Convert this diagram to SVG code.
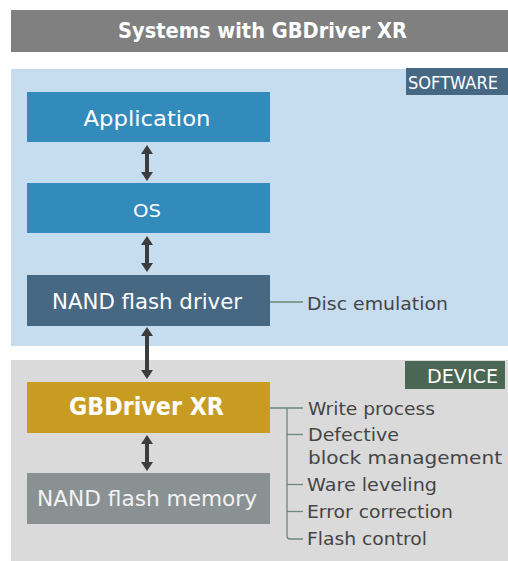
<svg xmlns="http://www.w3.org/2000/svg" width="508" height="561" viewBox="0 0 508 561">
  <style>
    .t { font-family: "DejaVu Sans", "Liberation Sans", sans-serif; }
    .w { fill: #ffffff; }
    .lbl { fill: #454545; font-size: 18px; }
    .conn { stroke: #6b8878; stroke-width: 1.3; fill: none; }
    .arr { stroke: #3c3c3c; stroke-width: 4; marker-start: url(#ah); marker-end: url(#ah); }
  </style>
  <defs>
    <marker id="ah" viewBox="0 0 9 12" refX="1" refY="6" markerWidth="9" markerHeight="12" markerUnits="userSpaceOnUse" orient="auto-start-reverse">
      <path d="M0,0 L9,6 L0,12 Z" fill="#3c3c3c"/>
    </marker>
  </defs>
  <rect width="508" height="561" fill="#ffffff"/>

  <!-- Title -->
  <g id="title">
    <rect x="11" y="10" width="497" height="42" fill="#808080"/>
    <text class="t w" x="262.5" y="37.5" font-size="22" font-weight="bold" text-anchor="middle" textLength="289" lengthAdjust="spacingAndGlyphs">Systems with GBDriver XR</text>
  </g>

  <!-- Panels -->
  <g id="software-panel">
    <rect x="11" y="69" width="497" height="277" fill="#c6dcef"/>
    <rect x="406" y="68" width="102" height="27" fill="#476883"/>
    <text class="t w" x="408" y="89" font-size="18" textLength="90" lengthAdjust="spacingAndGlyphs">SOFTWARE</text>
  </g>
  <g id="device-panel">
    <rect x="11" y="360" width="497" height="201" fill="#dadada"/>
    <rect x="405" y="361" width="100" height="28" fill="#4a6655"/>
    <text class="t w" x="427" y="383" font-size="19" textLength="71" lengthAdjust="spacingAndGlyphs">DEVICE</text>
  </g>

  <!-- Nodes -->
  <g id="application">
    <rect x="27" y="92" width="243" height="50" fill="#328bbb"/>
    <text class="t w" x="147" y="125.5" font-size="22" text-anchor="middle" textLength="127" lengthAdjust="spacingAndGlyphs">Application</text>
  </g>
  <g id="os">
    <rect x="27" y="183" width="243" height="50" fill="#328bbb"/>
    <text class="t w" x="147" y="217.3" font-size="18" text-anchor="middle" textLength="28" lengthAdjust="spacingAndGlyphs">OS</text>
  </g>
  <g id="nand-flash-driver">
    <rect x="27" y="275" width="243" height="51" fill="#476883"/>
    <text class="t w" x="147" y="309.3" font-size="22" text-anchor="middle" textLength="190" lengthAdjust="spacingAndGlyphs">NAND flash driver</text>
  </g>
  <g id="gbdriver-xr">
    <rect x="27" y="382" width="243" height="51" fill="#c89c20"/>
    <text class="t w" x="146.5" y="415" font-size="24" font-weight="bold" text-anchor="middle" textLength="155" lengthAdjust="spacingAndGlyphs">GBDriver XR</text>
  </g>
  <g id="nand-flash-memory">
    <rect x="27" y="473" width="243" height="51" fill="#8a9192"/>
    <text class="t" fill="#f2f2f2" x="147" y="506" font-size="22" text-anchor="middle" textLength="220" lengthAdjust="spacingAndGlyphs">NAND flash memory</text>
  </g>

  <!-- Feature labels -->
  <g id="disc-emulation">
    <text class="t lbl" x="307" y="310" textLength="141" lengthAdjust="spacingAndGlyphs">Disc emulation</text>
  </g>
  <g id="features">
    <text class="t lbl" x="308" y="414.5" textLength="127" lengthAdjust="spacingAndGlyphs">Write process</text>
    <text class="t lbl" x="308" y="441" textLength="91" lengthAdjust="spacingAndGlyphs">Defective</text>
    <text class="t lbl" x="308" y="464" textLength="194" lengthAdjust="spacingAndGlyphs">block management</text>
    <text class="t lbl" x="307" y="491" textLength="130" lengthAdjust="spacingAndGlyphs">Ware leveling</text>
    <text class="t lbl" x="307" y="518" textLength="146" lengthAdjust="spacingAndGlyphs">Error correction</text>
    <text class="t lbl" x="307" y="545" textLength="120" lengthAdjust="spacingAndGlyphs">Flash control</text>
  </g>

  <!-- Connectors -->
  <g id="connectors">
    <line class="arr" x1="147" y1="153" x2="147" y2="173"/>
    <line class="arr" x1="147" y1="244" x2="147" y2="264"/>
    <line class="arr" x1="147" y1="335" x2="147" y2="371"/>
    <line class="arr" x1="147" y1="443" x2="147" y2="463"/>
    <line class="conn" x1="270" y1="302" x2="303" y2="302"/>
    <line class="conn" x1="270" y1="408" x2="303" y2="408"/>
    <path class="conn" d="M287,408 V536 Q287,539 290,539 H303"/>
    <line class="conn" x1="287" y1="434.5" x2="303" y2="434.5"/>
    <line class="conn" x1="287" y1="484.5" x2="303" y2="484.5"/>
    <line class="conn" x1="287" y1="511.5" x2="303" y2="511.5"/>
  </g>
</svg>
